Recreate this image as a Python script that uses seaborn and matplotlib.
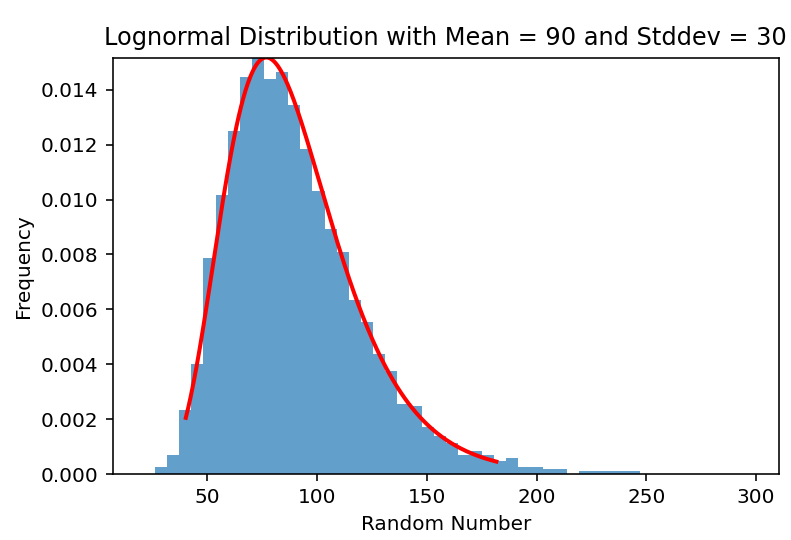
import numpy as np
import pandas as pd
import matplotlib
matplotlib.use("Agg")
import matplotlib.pyplot as plt
import seaborn as sns

# Distribution parameters (shown in the title)
dist_mean = 90
dist_std = 30

# Histogram: 50 equal-width bins, density values per bin
bin_start = 20.53
bin_width = 5.523
n_bins = 50
bin_density = [
    0.0, 0.00027, 0.00069, 0.00234, 0.00401, 0.00788, 0.01016, 0.01248, 0.01445, 0.01518,
    0.01439, 0.01466, 0.01344, 0.01183, 0.01031, 0.00891, 0.00810, 0.00635, 0.00554, 0.00437,
    0.00377, 0.00256, 0.00246, 0.00173, 0.00140, 0.00112, 0.00069, 0.00085, 0.00069, 0.00048,
    0.00057, 0.00027, 0.00027, 0.00020, 0.00020, 0.0, 0.00012, 0.00012, 0.00012, 0.00012,
    0.00012, 0.0, 0.0, 0.0, 0.0, 0.0, 0.0, 0.0, 0.0, 0.0,
]

x_ticks = [50, 100, 150, 200, 250, 300]
y_ticks = [0.000, 0.002, 0.004, 0.006, 0.008, 0.010, 0.012, 0.014]

bin_end = bin_start + n_bins * bin_width
hist_df = pd.DataFrame({
    "center": bin_start + bin_width * (np.arange(n_bins) + 0.5),
    "density": bin_density,
})

# Lognormal parameters from the arithmetic mean / stddev
sigma = np.sqrt(np.log(1 + (dist_std / dist_mean) ** 2))
mu = np.log(dist_mean) - sigma ** 2 / 2
z99 = 2.3263479  # standard normal 99% quantile
x_lo = np.exp(mu - z99 * sigma)
x_hi = np.exp(mu + z99 * sigma)
xs = np.linspace(x_lo, x_hi, 400)
pdf = np.exp(-(np.log(xs) - mu) ** 2 / (2 * sigma ** 2)) / (xs * sigma * np.sqrt(2 * np.pi))
curve_df = pd.DataFrame({"x": xs, "pdf": pdf})

dpi = 144
fig = plt.figure(figsize=(791 / dpi, 540 / dpi), dpi=dpi)
ax = fig.add_axes([112.5 / 791, 1 - 474 / 540, (779 - 112.5) / 791, (474 - 57.5) / 540])

sns.histplot(data=hist_df, x="center", weights="density", bins=n_bins,
             binrange=(bin_start, bin_end), stat="count",
             color="#1f77b4", alpha=0.7, linewidth=0, ax=ax)
sns.lineplot(data=curve_df, x="x", y="pdf", color="red", linewidth=2, ax=ax)

ax.set_xlim(bin_start - 0.05 * (bin_end - bin_start),
            bin_end + 0.05 * (bin_end - bin_start))
ax.set_ylim(0, pdf.max())
ax.set_xticks(x_ticks)
ax.set_yticks(y_ticks)
ax.set_yticklabels([f"{v:.3f}" for v in y_ticks])

ax.set_title(f"Lognormal Distribution with Mean = {dist_mean} and Stddev = {dist_std}")
ax.set_xlabel("Random Number")
ax.set_ylabel("Frequency")

fig.savefig("out.png", dpi=dpi)
